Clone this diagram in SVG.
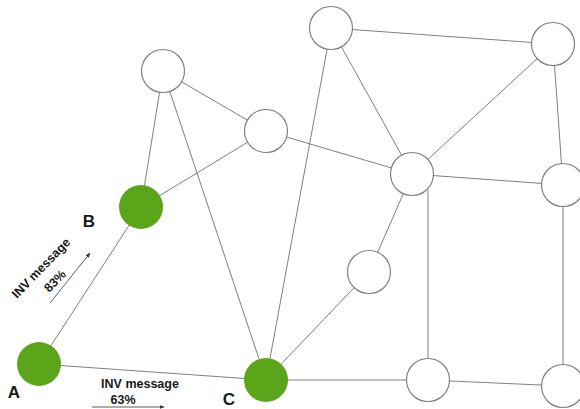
<svg xmlns="http://www.w3.org/2000/svg" width="580" height="409" viewBox="0 0 580 409">
<style>
.e{stroke:#7f7f7f;stroke-width:1;fill:none}
.n{fill:#ffffff;stroke:#7f7f7f;stroke-width:1.2}
.g{fill:#5ba51a;stroke:none}
.lbl{font-family:"Liberation Sans",Arial,sans-serif;font-weight:bold;fill:#1a1a1a}
.a{stroke:#333;stroke-width:0.8;fill:none;marker-end:url(#ah)}
</style>
<defs>
<marker id="ah" viewBox="0 0 10 10" refX="9" refY="5" markerWidth="5" markerHeight="5" orient="auto" markerUnits="userSpaceOnUse">
<path d="M0,1 L10,5 L0,9 z" fill="#333"/>
</marker>
</defs>
<rect width="580" height="409" fill="#ffffff"/>
<g id="connectors">
<line class="e" x1="39" y1="364" x2="141" y2="207"/>
<line class="e" x1="39" y1="364" x2="266" y2="380"/>
<line class="e" x1="141" y1="207" x2="163" y2="71"/>
<line class="e" x1="141" y1="207" x2="266" y2="131"/>
<line class="e" x1="163" y1="71" x2="266" y2="131"/>
<line class="e" x1="163" y1="71" x2="266" y2="380"/>
<line class="e" x1="266" y1="131" x2="412" y2="174"/>
<line class="e" x1="331" y1="28" x2="266" y2="380"/>
<line class="e" x1="331" y1="28" x2="553" y2="44"/>
<line class="e" x1="331" y1="28" x2="412" y2="174"/>
<line class="e" x1="553" y1="44" x2="412" y2="174"/>
<line class="e" x1="553" y1="44" x2="563" y2="185"/>
<line class="e" x1="412" y1="174" x2="563" y2="185"/>
<line class="e" x1="412" y1="174" x2="369" y2="272"/>
<line class="e" x1="428" y1="190" x2="428" y2="380"/>
<line class="e" x1="369" y1="272" x2="266" y2="380"/>
<line class="e" x1="266" y1="380" x2="428" y2="380"/>
<line class="e" x1="428" y1="380" x2="563" y2="386"/>
<line class="e" x1="563" y1="185" x2="563" y2="386"/>
</g>
<g id="n1"><circle class="n" cx="163" cy="71" r="21.5"/></g>
<g id="n2"><circle class="n" cx="266" cy="131" r="21.5"/></g>
<g id="n3"><circle class="n" cx="331" cy="28" r="21.5"/></g>
<g id="n4"><circle class="n" cx="553" cy="44" r="21.5"/></g>
<g id="n5"><circle class="n" cx="412" cy="174" r="21.5"/></g>
<g id="n6"><circle class="n" cx="563" cy="185" r="21.5"/></g>
<g id="n7"><circle class="n" cx="369" cy="272" r="21.5"/></g>
<g id="n8"><circle class="n" cx="428" cy="380" r="21.5"/></g>
<g id="n9"><circle class="n" cx="563" cy="386" r="21.5"/></g>
<g id="nodeA"><circle class="g" cx="39" cy="364" r="22"/><text class="lbl" x="14" y="398" font-size="17" text-anchor="middle">A</text></g>
<g id="nodeB"><circle class="g" cx="141" cy="207" r="22"/><text class="lbl" x="89" y="227" font-size="17" text-anchor="middle">B</text></g>
<g id="nodeC"><circle class="g" cx="266" cy="380" r="22"/><text class="lbl" x="229" y="405" font-size="17" text-anchor="middle">C</text></g>
<g id="labelAB">
<text class="lbl" font-size="12.5" text-anchor="middle" transform="translate(44,271) rotate(-46)">INV message</text>
<text class="lbl" font-size="12.5" text-anchor="middle" transform="translate(58,284) rotate(-46)">83%</text>
<line class="a" x1="50" y1="303" x2="90" y2="253"/>
</g>
<g id="labelAC">
<text class="lbl" x="140" y="388" font-size="12.5" text-anchor="middle">INV message</text>
<text class="lbl" x="123" y="404" font-size="12.5" text-anchor="middle">63%</text>
<line class="a" x1="92" y1="407" x2="164" y2="407"/>
</g>
</svg>
